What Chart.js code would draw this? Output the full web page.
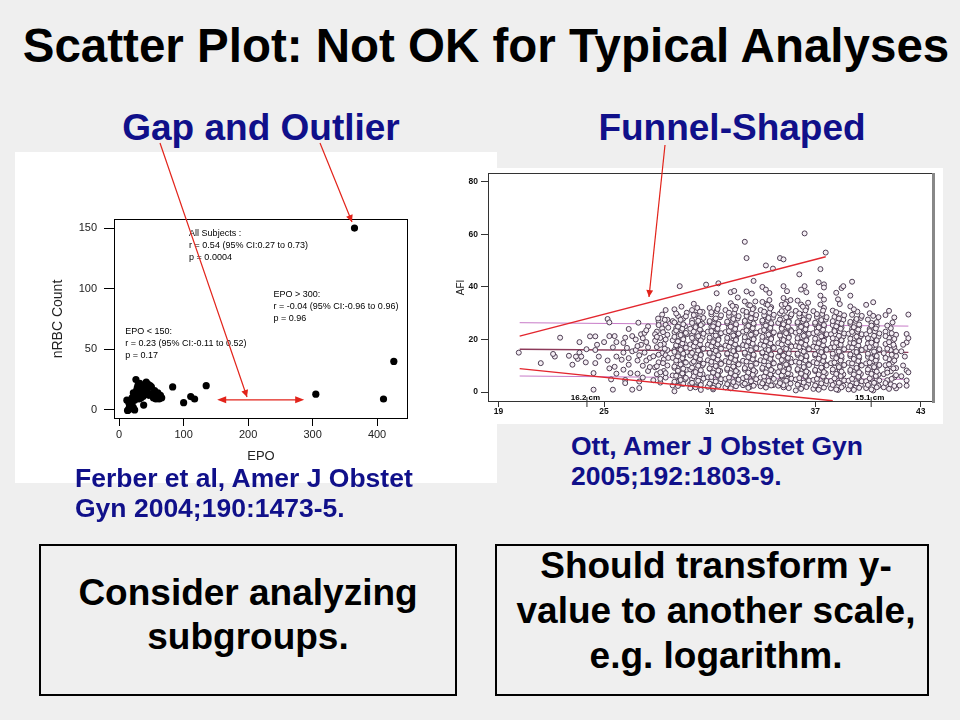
<!DOCTYPE html>
<html>
<head>
<meta charset="utf-8">
<script src="https://cdn.jsdelivr.net/npm/chart.js@4.4.1/dist/chart.umd.min.js"></script>
<style>
  body { margin: 0; background: #efefef; }
  #slide { position: relative; width: 960px; height: 720px; background: #efefef; overflow: hidden;
           font-family: "Liberation Sans", Arial, sans-serif; font-weight: bold; }
  .txt { position: absolute; white-space: nowrap; }
  .navy { color: #10108a; }
  .panel { position: absolute; background: #fff; }
  .box { position: absolute; box-sizing: border-box; border: 2px solid #000; }
  canvas { display: block; }
</style>
</head>
<body>
<div id="slide">
  <div class="txt" style="left:0;width:972px;top:22px;font-size:47.5px;line-height:48px;text-align:center;">Scatter Plot: Not OK for Typical Analyses</div>
  <div class="txt navy" style="left:61px;width:400px;top:110px;font-size:37px;line-height:36px;text-align:center;">Gap and Outlier</div>
  <div class="txt navy" style="left:532px;width:400px;top:110px;font-size:37px;line-height:36px;text-align:center;">Funnel-Shaped</div>

  <div class="panel" style="left:15px;top:152px;width:482px;height:331px;"><canvas id="epoChart" width="482" height="331"></canvas></div>
  <div class="panel" style="left:455px;top:168px;width:488px;height:256px;"><canvas id="afiChart" width="488" height="256"></canvas></div>

  <div class="txt navy" style="left:75px;top:463px;font-size:26.5px;line-height:30px;">Ferber et al, Amer J Obstet<br>Gyn 2004;190:1473-5.</div>
  <div class="txt navy" style="left:571px;top:431px;font-size:26.5px;line-height:30px;">Ott, Amer J Obstet Gyn<br>2005;192:1803-9.</div>

  <div class="box" style="left:39px;top:544px;width:418px;height:152px;"></div>
  <div class="box" style="left:495px;top:544px;width:434px;height:152px;"></div>
  <div class="txt" style="left:39px;width:418px;top:571px;font-size:37px;line-height:44px;text-align:center;">Consider analyzing<br>subgroups.</div>
  <div class="txt" style="left:496px;width:440px;top:543px;font-size:37px;line-height:45px;text-align:center;">Should transform y-<br>value to another scale,<br>e.g. logarithm.</div>

  <svg width="960" height="720" style="position:absolute;left:0;top:0;pointer-events:none;">
    <defs>
      <marker id="head" viewBox="0 0 10 10" refX="10" refY="5" markerWidth="9" markerHeight="7" markerUnits="userSpaceOnUse" orient="auto">
        <path d="M0,0 L10,5 L0,10 z" fill="#e2231a"/>
      </marker>
    </defs>
    <line x1="160" y1="143" x2="247" y2="397" stroke="#e2231a" stroke-width="1.2" marker-end="url(#head)"/>
    <line x1="320" y1="143" x2="352" y2="222" stroke="#e2231a" stroke-width="1.2" marker-end="url(#head)"/>
    <line x1="665" y1="145" x2="649" y2="297" stroke="#e2231a" stroke-width="1.2" marker-end="url(#head)"/>
  </svg>
</div>

<script>
const fontFamily = '"Liberation Sans", Arial, sans-serif';

// left chart: EPO vs nRBC count
const epo =  [365, 426, 410, 305, 135, 117, 111, 100, 83,
              12, 14, 16, 18, 20, 22, 24, 15, 26, 28, 30, 32, 34, 36, 38, 40, 42, 44, 46, 48,
              50, 52, 55, 58, 60, 62, 64, 66, 25, 27, 29, 31, 33, 35, 37, 22, 20, 19, 24, 45, 53, 57, 13, 17];
const nrbc = [150, 40, 9, 13, 20, 9, 11, 6, 19,
              8, 0, 3, 1, 5, 2, 8, 6, 25, 18, 14, 22, 10, 20, 4, 17, 23, 15, 12, 20,
              19, 13, 16, 11, 14, 9, 12, 10, 12, 16, 20, 9, 16, 13, 11, 14, 10, 4, 0, 21, 10, 9, -0.5, 2];
const epoTicks = [0, 100, 200, 300, 400];
const nrbcTicks = [0, 50, 100, 150];

const epoNotes = [
  { x: 108.5, y: 145.5, lines: ['All Subjects :', 'r = 0.54 (95% CI:0.27 to 0.73)', 'p = 0.0004'] },
  { x: 239.5, y: 95.3, lines: ['EPO > 300:', 'r = -0.04 (95% CI:-0.96 to 0.96)', 'p = 0.96'] },
  { x: 9.5, y: 64.7, lines: ['EPO < 150:', 'r = 0.23 (95% CI:-0.11 to 0.52)', 'p = 0.17'] }
];

// right chart: gestational age (weeks) vs AFI
const afiPoints = [
  // 20-26 weeks
  [20.15,15],[21.4,11],[22.2,13.5],[22.1,14.5],[22.5,20.7],
  [23.0,13.8],[23.2,10.4],[23.5,12.6],[23.6,19],[23.6,15],[23.4,13.5],[23.7,13.5],
  [23.96,11.3],[24.0,16.3],[24.2,21.2],[24.4,0.9],[24.4,7.2],[24.5,21.2],[24.5,16],[24.6,18],[24.7,13.5],[24.5,11],
  [25.0,19],[25.2,27.8],[25.3,26.5],[25.3,21.3],[25.2,12],[25.3,9],[25.4,4.8],[25.5,0.9],[25.6,21.3],[25.7,13.5],[25.6,9.6],[25.7,7],[25.5,17],[25.7,19],
  [26.1,18.7],[26.2,20.7],[26.3,16.8],[26.0,12.3],[26.4,12.9],[26.1,8.5],[26.2,4.6],[26.6,0.9],[26.5,7.2],[26.6,21.3],[26.4,24],[26.1,15],[26.4,10.4],[26.6,15.5],[26.2,3.4],
  // 27
  [26.8,16],[26.9,12],[26.8,20],[26.9,7],[27.0,1.5],[27.0,14],[27.1,18],[27.1,22],[27.2,10],[26.95,26.4],[27.2,5.5],[27.3,15],
  [27.3,22.5],[27.4,12],[27.4,19],[27.5,8],[27.5,25],[27.5,17],[27.6,13],[27.2,20.5],[27.0,4],[27.4,23.5],[27.6,9.5],[26.9,17.5],
  // 28
  [27.8,4.5],[28.2,3.6],[28.5,5.5],[28.0,6.8],[28.4,8],[27.9,9.4],[28.6,10.1],[28.1,11.3],[28.4,12.5],[27.8,13.6],
  [28.3,14.8],[28.6,16],[28.0,17.1],[28.4,18.3],[27.9,19.5],[28.2,20.6],[28.6,21.8],[28.0,23],[28.3,24.2],[28.5,25.6],
  [28.1,27],[28.07,28],[28.5,31.2],[28.6,27.5],[28.2,7.5],[28.5,14],[27.9,22],
  [28.2,5],[28.5,7.2],[28.0,9.8],[28.35,11],[28.65,13],[28.1,14.2],[28.45,16.5],[28.2,18],[28.5,20],[28.0,21],
  [28.35,22.8],[28.65,24.5],[28.1,25.5],[28.45,27.5],[28.3,29.5],
  // 29
  [28.9,2.5],[29.4,3.2],[29.1,4],[29.6,4.8],[29.3,5.6],[28.9,6.3],[29.5,7],[29.2,7.8],[29.7,8.5],[29.0,9.2],
  [29.4,10],[29.1,10.8],[29.6,11.5],[29.3,12.2],[28.9,13],[29.5,13.7],[29.2,14.4],[29.7,15.2],[29.0,16],[29.4,16.7],
  [29.1,17.5],[29.6,18.2],[29.3,19],[28.9,19.7],[29.5,20.5],[29.2,21.2],[29.7,22],[29.0,22.8],[29.4,23.5],[29.1,24.3],
  [29.6,25],[29.3,26],[28.9,27],[29.5,28],[29.2,29],[29.7,30.2],[29.0,31.5],[29.4,32.5],[29.3,40.3],[29.0,0.3],
  [29.2,2.3],[29.5,3.1],[29.0,3.9],[29.35,4.6],[29.65,5.4],[29.1,6.2],[29.45,7.1],[29.2,8.1],[29.5,8.9],[29.0,9.7],
  [29.35,10.5],[29.65,11.2],[29.1,12],[29.45,12.9],[29.2,13.6],[29.5,14.6],[29.0,15.3],[29.35,16.1],[29.65,16.9],[29.1,17.8],
  [29.45,18.5],[29.2,19.3],[29.5,20.1],[29.0,21],[29.35,21.7],[29.65,22.5],[29.1,23.4],[29.45,24.1],[29.2,24.9],[29.5,25.8],
  [29.0,26.5],[29.35,27.5],[29.65,28.8],[29.1,29.9],
  // 30
  [29.9,3],[30.2,2.2],[30.5,3.8],[30.0,4.9],[30.4,5.5],[30.6,6.8],[30.1,7.4],[29.9,8.6],[30.3,9.1],[30.6,10.2],
  [30.0,11],[30.4,11.9],[30.2,12.8],[29.9,13.9],[30.5,14.3],[30.1,15.6],[30.6,16.4],[30.3,17.2],[29.9,18.1],[30.4,19],
  [30.1,19.8],[30.6,20.7],[30.0,21.6],[30.3,22.4],[30.5,23.3],[29.9,24.1],[30.2,25.2],[30.6,26],[30.0,27.3],[30.4,28.1],
  [30.2,29.4],[30.6,30.5],[30.0,31.2],[30.3,32],[29.9,1.5],[30.5,0.8],[30.1,33.6],
  [30.2,1.8],[30.5,2.7],[30.0,3.5],[30.35,4.3],[30.65,5.1],[30.1,6],[30.45,6.8],[30.2,7.6],[30.5,8.3],[30.0,9.3],
  [30.35,10],[30.65,10.8],[30.1,11.6],[30.45,12.5],[30.2,13.3],[30.5,14.1],[30.0,14.9],[30.35,15.8],[30.65,16.5],[30.1,17.4],
  [30.45,18.1],[30.2,18.9],[30.5,19.7],[30.0,20.6],[30.35,21.3],[30.65,22.2],[30.1,23],[30.45,23.8],[30.2,24.7],[30.5,25.5],
  [30.0,26.3],[30.35,27.1],[30.65,28.2],[30.1,29.3],[30.45,30.6],
  // 31
  [30.9,2],[31.3,2.8],[31.6,3.5],[31.1,4.4],[30.9,5.6],[31.5,6.1],[31.2,7.2],[31.6,8],[31.0,8.8],[31.4,9.7],
  [31.1,10.5],[31.6,11.3],[30.9,12.1],[31.3,13],[31.5,13.9],[31.0,14.6],[31.4,15.5],[31.2,16.3],[31.6,17.1],[30.9,18],
  [31.3,18.8],[31.0,19.7],[31.5,20.4],[31.2,21.4],[31.6,22.2],[30.9,23],[31.4,23.9],[31.1,24.8],[31.5,25.7],[31.0,26.5],
  [31.3,27.6],[31.6,28.5],[31.1,29.6],[31.4,30.8],[31.0,32],[31.5,33],[31.4,37.6],[31.5,41.4],[30.8,40.9],[31.2,1],
  [31.2,1.6],[31.5,2.4],[31.0,3.2],[31.35,4],[31.65,4.9],[31.1,5.7],[31.45,6.5],[31.2,7.4],[31.5,8.2],[31.0,9],
  [31.35,9.9],[31.65,10.7],[31.1,11.5],[31.45,12.4],[31.2,13.2],[31.5,14],[31.0,14.9],[31.35,15.7],[31.65,16.5],[31.1,17.4],
  [31.45,18.2],[31.2,19],[31.5,19.9],[31.0,20.7],[31.35,21.5],[31.65,22.4],[31.1,23.2],[31.45,24.1],[31.2,25],[31.5,25.9],
  [31.0,27],[31.35,28],[31.65,29.2],[31.1,30.4],[31.45,31.6],
  // 32
  [31.9,1.8],[32.3,2.5],[32.6,3.3],[32.1,4.2],[31.9,5],[32.5,5.8],[32.2,6.7],[32.6,7.5],[32.0,8.4],[32.4,9.2],
  [32.1,10.1],[32.6,10.9],[31.9,11.8],[32.3,12.6],[32.5,13.5],[32.0,14.3],[32.4,15.2],[32.2,16],[32.6,16.9],[31.9,17.7],
  [32.3,18.6],[32.0,19.4],[32.5,20.3],[32.2,21.1],[32.6,22],[31.9,22.8],[32.4,23.7],[32.1,24.5],[32.5,25.4],[32.0,26.2],
  [32.3,27.1],[32.6,28],[32.1,29],[32.4,30.1],[31.9,31.2],[32.5,32.4],[32.2,33.8],[32.2,38],[32.4,38.5],[32.6,36],
  [32.2,1.4],[32.5,2.2],[32.0,3],[32.35,3.8],[32.65,4.7],[32.1,5.5],[32.45,6.3],[32.2,7.2],[32.5,8],[32.0,8.9],
  [32.35,9.7],[32.65,10.5],[32.1,11.4],[32.45,12.2],[32.2,13],[32.5,13.9],[32.0,14.7],[32.35,15.6],[32.65,16.4],[32.1,17.2],
  [32.45,18.1],[32.2,18.9],[32.5,19.8],[32.0,20.6],[32.35,21.5],[32.65,22.3],[32.1,23.2],[32.45,24],[32.2,24.9],[32.5,25.8],
  [32.0,26.8],[32.35,27.8],[32.65,28.9],[32.1,30.2],[32.45,31.5],[32.3,32.8],
  // 33
  [32.9,2.6],[33.3,2],[33.6,3.4],[33.1,4.1],[32.9,5.3],[33.5,5.9],[33.2,6.8],[33.6,7.7],[33.0,8.5],[33.4,9.4],
  [33.1,10.2],[33.6,11.1],[32.9,11.9],[33.3,12.8],[33.5,13.6],[33.0,14.5],[33.4,15.3],[33.2,16.2],[33.6,17],[32.9,17.9],
  [33.3,18.7],[33.0,19.6],[33.5,20.4],[33.2,21.3],[33.6,22.1],[32.9,23],[33.4,23.8],[33.1,24.7],[33.5,25.5],[33.0,26.4],
  [33.3,27.2],[33.6,28.1],[33.1,29],[33.4,30],[32.9,31],[33.5,32],[33.2,33.2],[33.0,34.5],[33.0,57.2],[33.1,51],
  [33.5,42.3],[33.1,38.3],[33.4,37.5],
  [33.2,1.6],[33.5,2.4],[33.0,3.2],[33.35,4.1],[33.65,4.9],[33.1,5.8],[33.45,6.6],[33.2,7.4],[33.5,8.3],[33.0,9.1],
  [33.35,10],[33.65,10.8],[33.1,11.6],[33.45,12.5],[33.2,13.3],[33.5,14.2],[33.0,15],[33.35,15.9],[33.65,16.7],[33.1,17.5],
  [33.45,18.4],[33.2,19.2],[33.5,20.1],[33.0,20.9],[33.35,21.8],[33.65,22.6],[33.1,23.5],[33.45,24.3],[33.2,25.2],[33.5,26.1],
  [33.0,27.1],[33.35,28.1],[33.65,29.3],[33.1,30.5],[33.45,31.6],[33.3,33],[33.6,34.5],
  // 34
  [33.9,2.2],[34.3,3],[34.6,2.6],[34.1,4.3],[33.9,5.5],[34.5,6],[34.2,7],[34.6,7.9],[34.0,8.7],[34.4,9.6],
  [34.1,10.4],[34.6,11.3],[33.9,12.1],[34.3,13],[34.5,13.8],[34.0,14.7],[34.4,15.5],[34.2,16.4],[34.6,17.2],[33.9,18.1],
  [34.3,18.9],[34.0,19.8],[34.5,20.6],[34.2,21.5],[34.6,22.3],[33.9,23.2],[34.4,24],[34.1,24.9],[34.5,25.7],[34.0,26.6],
  [34.3,27.4],[34.6,28.3],[34.1,29.2],[34.4,30.2],[33.9,31.2],[34.5,32.3],[34.2,33.5],[34.4,35],[34.2,48.2],[34.6,47],
  [34.0,40],[34.2,39],[34.4,37.7],
  [34.2,1.7],[34.5,2.5],[34.0,3.3],[34.35,4.2],[34.65,5],[34.1,5.9],[34.45,6.7],[34.2,7.5],[34.5,8.4],[34.0,9.2],
  [34.35,10.1],[34.65,10.9],[34.1,11.7],[34.45,12.6],[34.2,13.4],[34.5,14.3],[34.0,15.1],[34.35,16],[34.65,16.8],[34.1,17.6],
  [34.45,18.5],[34.2,19.3],[34.5,20.2],[34.0,21],[34.35,21.9],[34.65,22.7],[34.1,23.6],[34.45,24.4],[34.2,25.3],[34.5,26.2],
  [34.0,27.2],[34.35,28.2],[34.65,29.4],[34.1,30.6],[34.45,31.8],[34.3,33.2],[34.0,34.3],
  // 35
  [34.9,2.4],[35.2,1.8],[35.6,3.2],[35.0,4.1],[35.4,5],[35.1,5.9],[35.6,6.7],[34.9,7.6],[35.3,8.4],[35.5,9.3],
  [35.0,10.1],[35.4,11],[35.2,11.8],[35.6,12.7],[34.9,13.5],[35.3,14.4],[35.0,15.2],[35.5,16.1],[35.2,16.9],[35.6,17.8],
  [34.9,18.6],[35.4,19.5],[35.1,20.3],[35.5,21.2],[35.0,22],[35.3,22.9],[35.6,23.7],[35.1,24.6],[35.4,25.4],[34.9,26.3],
  [35.5,27.1],[35.2,28],[35.6,28.9],[35.0,29.9],[35.3,30.9],[35.5,32],[35.1,33.2],[35.4,34.4],[35.2,35.8],[35.0,51],
  [35.2,50.5],[35.2,40.3],[35.4,38.4],
  [35.2,2.6],[35.5,1.5],[35.0,3.4],[35.35,4.3],[35.65,5.1],[35.1,6.3],[35.45,7.1],[35.2,7.9],[35.5,8.8],[35.0,9.6],
  [35.35,10.5],[35.65,11.3],[35.1,12.2],[35.45,13],[35.2,13.9],[35.5,14.7],[35.0,15.6],[35.35,16.4],[35.65,17.3],[35.1,18.1],
  [35.45,19],[35.2,19.8],[35.5,20.7],[35.0,21.5],[35.35,22.4],[35.65,23.2],[35.1,24.1],[35.45,24.9],[35.2,25.8],[35.5,26.7],
  [35.0,27.6],[35.35,28.5],[35.65,29.6],[35.1,30.8],[35.45,32],[35.3,33.5],[35.6,35],
  // 36
  [35.9,0.6],[36.3,2.2],[36.6,3],[36.1,3.9],[35.9,4.8],[36.5,5.6],[36.2,6.5],[36.6,7.3],[36.0,8.2],[36.4,9],
  [36.1,9.9],[36.6,10.7],[35.9,11.6],[36.3,12.4],[36.5,13.3],[36.0,14.1],[36.4,15],[36.2,15.8],[36.6,16.7],[35.9,17.5],
  [36.3,18.4],[36.0,19.2],[36.5,20.1],[36.2,20.9],[36.6,21.8],[35.9,22.6],[36.4,23.5],[36.1,24.3],[36.5,25.2],[36.0,26],
  [36.3,26.9],[36.6,27.8],[36.1,28.8],[36.4,29.8],[35.9,30.9],[36.5,32],[36.2,33.3],[36.0,34.8],[36.4,60.4],[36.1,44.8],
  [36.4,40.3],[36.2,39],[36.5,38],
  [36.2,1.2],[36.5,1.9],[36.0,2.8],[36.35,3.6],[36.65,4.4],[36.1,5.3],[36.45,6.1],[36.2,7],[36.5,7.8],[36.0,8.7],
  [36.35,9.5],[36.65,10.3],[36.1,11.2],[36.45,12],[36.2,12.9],[36.5,13.7],[36.0,14.6],[36.35,15.4],[36.65,16.3],[36.1,17.1],
  [36.45,18],[36.2,18.8],[36.5,19.7],[36.0,20.5],[36.35,21.4],[36.65,22.2],[36.1,23.1],[36.45,23.9],[36.2,24.8],[36.5,25.7],
  [36.0,26.6],[36.35,27.6],[36.65,28.7],[36.1,29.9],[36.45,31.1],[36.3,32.5],[36.6,34],
  // 37
  [36.9,1.2],[37.3,2],[37.6,2.9],[37.1,3.7],[36.9,4.6],[37.5,5.4],[37.2,6.3],[37.6,7.1],[37.0,8],[37.4,8.8],
  [37.1,9.7],[37.6,10.5],[36.9,11.4],[37.3,12.2],[37.5,13.1],[37.0,13.9],[37.4,14.8],[37.2,15.6],[37.6,16.5],[36.9,17.3],
  [37.3,18.2],[37.0,19],[37.5,19.9],[37.2,20.7],[37.6,21.6],[36.9,22.4],[37.4,23.3],[37.1,24.1],[37.5,25],[37.0,25.8],
  [37.3,26.7],[37.6,27.6],[37.1,28.6],[37.4,29.7],[36.9,30.8],[37.5,32],[37.6,53.1],[37.3,46.8],[37.2,41.8],[37.5,41],
  [37.5,39.8],[37.3,36.7],[37.5,35.2],
  [37.2,0.9],[37.5,1.7],[37.0,2.5],[37.35,3.3],[37.65,4.2],[37.1,5],[37.45,5.9],[37.2,6.7],[37.5,7.6],[37.0,8.4],
  [37.35,9.3],[37.65,10.1],[37.1,11],[37.45,11.8],[37.2,12.7],[37.5,13.5],[37.0,14.4],[37.35,15.2],[37.65,16.1],[37.1,16.9],
  [37.45,17.8],[37.2,18.6],[37.5,19.5],[37.0,20.3],[37.35,21.2],[37.65,22],[37.1,22.9],[37.45,23.7],[37.2,24.6],[37.5,25.5],
  [37.0,26.4],[37.35,27.4],[37.65,28.5],[37.1,29.7],[37.45,31],[37.3,33.3],
  // 38
  [37.9,1.4],[38.3,0.8],[38.6,2.4],[38.1,3.3],[37.9,4.2],[38.5,5],[38.2,5.9],[38.6,6.7],[38.0,7.6],[38.4,8.4],
  [38.1,9.3],[38.6,10.1],[37.9,11],[38.3,11.8],[38.5,12.7],[38.0,13.5],[38.4,14.4],[38.2,15.2],[38.6,16.1],[37.9,16.9],
  [38.3,17.8],[38.0,18.6],[38.5,19.5],[38.2,20.3],[38.6,21.2],[37.9,22],[38.4,22.9],[38.1,23.7],[38.5,24.6],[38.0,25.5],
  [38.3,26.5],[38.6,27.5],[38.1,28.6],[38.4,29.8],[38.0,31],[38.2,37.8],[38.5,39.6],[38.6,40.3],[38.3,35.3],[38.4,33.5],
  [38.2,1],[38.5,1.8],[38.0,2.7],[38.35,3.5],[38.65,4.4],[38.1,5.2],[38.45,6.1],[38.2,6.9],[38.5,7.8],[38.0,8.6],
  [38.35,9.5],[38.65,10.3],[38.1,11.2],[38.45,12],[38.2,12.9],[38.5,13.7],[38.0,14.6],[38.35,15.4],[38.65,16.3],[38.1,17.1],
  [38.45,18],[38.2,18.8],[38.5,19.7],[38.0,20.5],[38.35,21.4],[38.65,22.3],[38.1,23.2],[38.45,24.1],[38.2,25],[38.5,26],
  [38.0,27],[38.35,28],[38.65,29.2],[38.2,30.4],
  // 39
  [38.9,1],[39.3,1.8],[39.6,2.6],[39.1,3.5],[38.9,4.3],[39.5,5.2],[39.2,6],[39.6,6.9],[39.0,7.7],[39.4,8.6],
  [39.1,9.4],[39.6,10.3],[38.9,11.1],[39.3,12],[39.5,12.8],[39.0,13.7],[39.4,14.5],[39.2,15.4],[39.6,16.2],[38.9,17.1],
  [39.3,17.9],[39.0,18.8],[39.5,19.6],[39.2,20.5],[39.6,21.3],[38.9,22.2],[39.4,23],[39.1,24],[39.5,25],[39.0,26],
  [39.3,27.1],[39.6,28.2],[39.1,29.4],[39.4,30.6],[39.1,42],[39.0,36.7],[39.0,32.6],
  [39.2,0.8],[39.5,1.6],[39.0,2.4],[39.35,3.3],[39.65,4.1],[39.1,5],[39.45,5.8],[39.2,6.7],[39.5,7.5],[39.0,8.4],
  [39.35,9.2],[39.65,10.1],[39.1,10.9],[39.45,11.8],[39.2,12.6],[39.5,13.5],[39.0,14.3],[39.35,15.2],[39.65,16],[39.1,16.9],
  [39.45,17.7],[39.2,18.6],[39.5,19.4],[39.0,20.3],[39.35,21.1],[39.65,22],[39.1,22.9],[39.45,23.8],[39.2,24.7],[39.5,25.7],
  [39.0,26.7],[39.35,27.8],[39.65,29],[39.2,31.5],
  // 40
  [39.9,1.5],[40.3,0.6],[40.6,2.3],[40.1,3.2],[39.9,4.1],[40.5,4.9],[40.2,5.8],[40.6,6.6],[40.0,7.5],[40.4,8.3],
  [40.1,9.2],[40.6,10],[39.9,10.9],[40.3,11.7],[40.5,12.6],[40.0,13.4],[40.4,14.3],[40.2,15.1],[40.6,16],[39.9,16.8],
  [40.3,17.7],[40.0,18.5],[40.5,19.4],[40.2,20.2],[40.6,21.1],[39.9,22],[40.4,23],[40.1,24],[40.5,25.1],[40.2,26.3],
  [40.0,27.6],[39.9,33.2],[40.3,34.2],[40.1,30],[40.3,29],[40.6,28.5],
  [40.2,1],[40.5,1.8],[40.0,2.7],[40.35,3.5],[40.65,4.4],[40.1,5.2],[40.45,6.1],[40.2,6.9],[40.5,7.8],[40.0,8.6],
  [40.35,9.5],[40.65,10.3],[40.1,11.2],[40.45,12],[40.2,12.9],[40.5,13.7],[40.0,14.6],[40.35,15.4],[40.65,16.3],[40.1,17.1],
  [40.45,18],[40.2,18.8],[40.5,19.7],[40.0,20.5],[40.35,21.4],[40.65,22.3],[40.1,23.2],[40.45,24.2],[40.2,25.3],[40.5,26.6],
  // 41
  [40.9,1.8],[41.3,2.9],[41.6,1.4],[41.1,4.5],[41.5,5.6],[40.9,6.8],[41.3,7.9],[41.6,9.1],[41.0,10.2],[41.4,11.4],
  [41.2,12.5],[41.6,13.7],[40.9,14.8],[41.3,16],[41.5,17.1],[41.0,18.3],[41.4,19.4],[41.2,20.6],[41.6,21.8],[41.0,23],
  [41.3,24.3],[41.2,30.9],[41.0,29.3],[41.5,28.4],[41.4,26.5],[41.1,8.5],
  [41.2,1.2],[41.5,2.3],[41.0,3.4],[41.35,5],[41.6,6.4],[41.1,7.4],[41.45,9],[41.2,10.5],[41.5,12],[41.0,13],
  [41.35,14.2],[41.6,15.5],[41.1,16.5],[41.45,18],[41.2,19],[41.5,20.2],[41.0,21.3],[41.35,22.4],[41.1,25.3],
  // 42
  [42.3,29.5],[42.2,22.1],[42.2,18.9],[42.0,18],[41.9,15.5],[42.0,10.1],[42.2,8.2],[42.2,4.4],[41.8,2.5],[42.3,7.5],
  [42.1,13.5],[42.3,20.5],[41.9,6],[42.2,2.4]
];
const funnelUpper = [[20.2, 21.3], [37.6, 51.5]];
const funnelLower = [[20.2, 8.9], [38.0, -3.3]];
const afiP90 = [[20.2, 26.4], [42.3, 25.1]];
const afiMedian = [[20.2, 16.3], [42.3, 15.1]];
const afiP10 = [[20.2, 6.1], [42.3, 4.8]];
const gaTicks = [19, 25, 31, 37, 43];
const afiTicks = [0, 20, 40, 60, 80];
const medianLabels = [{ x: 23.94, text: '16.2 cm' }, { x: 40.1, text: '15.1 cm' }];

const toXY = pts => pts.map(p => ({ x: p[0], y: p[1] }));

//box, text notes and the gap arrow for the left chart
const epoNotesPlugin = {
  id: 'epoNotes',
  afterDatasetsDraw(chart) {
    const { ctx, chartArea: a, scales: { x, y } } = chart;
    ctx.save();
    ctx.strokeStyle = '#000';
    ctx.lineWidth = 1;
    ctx.strokeRect(a.left + 0.5, a.top + 0.5, a.width - 1, a.height - 1);

    ctx.fillStyle = '#000';
    ctx.font = '9px ' + fontFamily;
    ctx.textBaseline = 'middle';
    epoNotes.forEach(n => {
      n.lines.forEach((t, i) => ctx.fillText(t, x.getPixelForValue(n.x), y.getPixelForValue(n.y) + i * 12));
    });

    // double arrow across the gap
    const x1 = x.getPixelForValue(152), x2 = x.getPixelForValue(287), yy = y.getPixelForValue(8.3);
    ctx.strokeStyle = '#e2231a';
    ctx.fillStyle = '#e2231a';
    ctx.lineWidth = 1.2;
    ctx.beginPath(); ctx.moveTo(x1 + 4, yy); ctx.lineTo(x2 - 4, yy); ctx.stroke();
    ctx.beginPath(); ctx.moveTo(x1, yy); ctx.lineTo(x1 + 9, yy - 3.5); ctx.lineTo(x1 + 9, yy + 3.5); ctx.fill();
    ctx.beginPath(); ctx.moveTo(x2, yy); ctx.lineTo(x2 - 9, yy - 3.5); ctx.lineTo(x2 - 9, yy + 3.5); ctx.fill();
    ctx.restore();
  }
};

const afiFramePlugin = {
  id: 'afiFrame',
  afterDatasetsDraw(chart) {
    const { ctx, chartArea: a, scales: { x } } = chart;
    ctx.save();
    ctx.strokeStyle = '#333';
    ctx.lineWidth = 1;
    ctx.strokeRect(a.left + 0.5, a.top + 0.5, a.width - 1, a.height - 1);
    ctx.strokeStyle = '#888';
    ctx.lineWidth = 3;
    ctx.beginPath(); ctx.moveTo(a.right + 0.5, a.top); ctx.lineTo(a.right + 0.5, a.bottom + 1); ctx.stroke();

    ctx.fillStyle = '#000';
    ctx.strokeStyle = '#333';
    ctx.lineWidth = 1;
    ctx.font = 'bold 8px ' + fontFamily;
    ctx.textAlign = 'center';
    ctx.textBaseline = 'alphabetic';
    medianLabels.forEach(m => {
      const px = x.getPixelForValue(m.x);
      ctx.fillText(m.text, px, a.bottom - 2);
      ctx.beginPath(); ctx.moveTo(px + 1.5, a.bottom - 5); ctx.lineTo(px + 1.5, a.bottom + 5); ctx.stroke();
    });
    ctx.restore();
  }
};

new Chart(document.getElementById('epoChart'), {
  type: 'scatter',
  data: {
    datasets: [{
      data: epo.map((v, i) => ({ x: v, y: nrbc[i] })),
      backgroundColor: '#000',
      borderColor: '#000',
      borderWidth: 0,
      pointRadius: 3.6
    }]
  },
  options: {
    responsive: false,
    animation: false,
    layout: { padding: { left: 0, top: 67, right: 89, bottom: 0 } },
    plugins: { legend: { display: false }, tooltip: { enabled: false } },
    scales: {
      x: {
        type: 'linear', min: -8, max: 448,
        afterBuildTicks: s => { s.ticks = epoTicks.map(v => ({ value: v })); },
        afterFit: s => { s.height = 64; s.paddingLeft = 0; s.paddingRight = 0; },
        grid: { drawOnChartArea: false, tickLength: 7, color: '#000' },
        border: { display: false },
        ticks: { padding: 2, color: '#222', font: { size: 11, family: fontFamily } },
        title: { display: true, text: 'EPO', color: '#222', font: { size: 13, family: fontFamily }, padding: { top: 0, bottom: 19 } }
      },
      y: {
        type: 'linear', min: -7.5, max: 157.5,
        afterBuildTicks: s => { s.ticks = nrbcTicks.map(v => ({ value: v })); },
        afterFit: s => { s.width = 99; s.paddingTop = 0; s.paddingBottom = 0; },
        grid: { drawOnChartArea: false, tickLength: 10, color: '#000' },
        border: { display: false },
        ticks: { padding: 7, color: '#222', font: { size: 11, family: fontFamily } },
        title: { display: true, text: 'nRBC Count', color: '#222', font: { size: 14, family: fontFamily }, padding: { top: 35, bottom: 0 } }
      }
    }
  },
  plugins: [epoNotesPlugin]
});

new Chart(document.getElementById('afiChart'), {
  type: 'scatter',
  data: {
    datasets: [
      { data: toXY(funnelUpper), showLine: true, borderColor: '#e3262e', borderWidth: 1.4, pointRadius: 0, order: 0 },
      { data: toXY(funnelLower), showLine: true, borderColor: '#e3262e', borderWidth: 1.4, pointRadius: 0, order: 0 },
      { data: toXY(afiPoints), pointRadius: 2.5, borderWidth: 1, borderColor: '#4d3d52', backgroundColor: '#f5eff5', order: 1 },
      { data: toXY(afiP90), showLine: true, borderColor: '#c77ac7', borderWidth: 1, pointRadius: 0, order: 2 },
      { data: toXY(afiMedian), showLine: true, borderColor: '#8c3a5a', borderWidth: 1.4, pointRadius: 0, order: 2 },
      { data: toXY(afiP10), showLine: true, borderColor: '#c77ac7', borderWidth: 1, pointRadius: 0, order: 2 }
    ]
  },
  options: {
    responsive: false,
    animation: false,
    layout: { padding: { left: 0, top: 5, right: 10, bottom: 0 } },
    plugins: { legend: { display: false }, tooltip: { enabled: false } },
    scales: {
      x: {
        type: 'linear', min: 18.4, max: 43.7,
        afterBuildTicks: s => { s.ticks = gaTicks.map(v => ({ value: v })); },
        afterFit: s => { s.height = 22; s.paddingLeft = 0; s.paddingRight = 0; },
        grid: { drawOnChartArea: false, tickLength: 5, color: '#333' },
        border: { display: false },
        ticks: { padding: 0, color: '#111', font: { size: 8.5, weight: 'bold', family: fontFamily } }
      },
      y: {
        type: 'linear', min: -3.8, max: 83.4,
        afterBuildTicks: s => { s.ticks = afiTicks.map(v => ({ value: v })); },
        afterFit: s => { s.width = 33; s.paddingTop = 0; s.paddingBottom = 0; },
        grid: { drawOnChartArea: false, tickLength: 7, color: '#333' },
        border: { display: false },
        ticks: { padding: 3, color: '#111', font: { size: 8.5, weight: 'bold', family: fontFamily } },
        title: { display: true, text: 'AFI', color: '#222', font: { size: 10, family: fontFamily }, padding: { top: 0, bottom: 0 } }
      }
    }
  },
  plugins: [afiFramePlugin]
});
</script>
</body>
</html>
